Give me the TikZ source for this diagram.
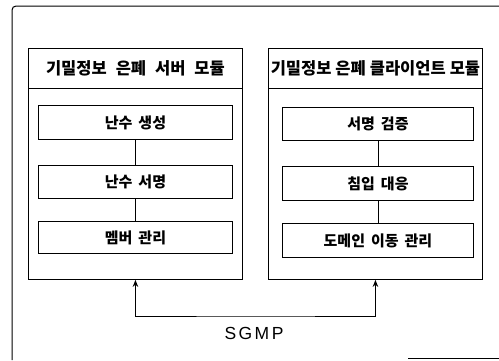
\documentclass[tikz,border=0pt]{standalone}
\usepackage{fontspec}
\setmainfont{Liberation Sans}
\newfontfamily\kr{Noto Sans CJK KR}
\usetikzlibrary{arrows.meta}
\begin{document}
\begin{tikzpicture}[x=1pt,y=-1pt,
  frame/.style={line width=1pt},
  modbox/.style={draw, line width=0.9pt, anchor=north west, inner sep=0pt, minimum width=214pt, minimum height=231pt},
  hdrbox/.style={draw, line width=0.9pt, anchor=north west, inner sep=0pt, minimum width=214pt, minimum height=40pt, font=\kr\bfseries\fontsize{16.5}{18}\selectfont},
  subbox/.style={draw, line width=0.9pt, anchor=north west, inner sep=0pt, font=\kr\bfseries\fontsize{15}{17}\selectfont},
  link/.style={line width=0.9pt},
  arr/.style={line width=1pt, {Stealth[length=7pt,width=5.5pt]}-{Stealth[length=7pt,width=5.5pt]}}]
\useasboundingbox (0,0) rectangle (499,360);
% outer frame
\draw[frame, rounded corners=4pt] (499,6) -- (12,6) -- (12,360);
\draw[frame] (408,358.5) -- (499,358.5);
% left module
\node[modbox] (L) at (28,48) {};
\node[hdrbox] (Lh) at (28,48) {\spaceskip=9pt\relax 기밀정보 은폐 서버 모듈};
\node[subbox, minimum width=194pt, minimum height=34pt] (L1) at (38,105) {\spaceskip=6pt\relax 난수 생성};
\node[subbox, minimum width=194pt, minimum height=33pt] (L2) at (38,165) {\spaceskip=6pt\relax 난수 서명};
\node[subbox, minimum width=194pt, minimum height=32pt] (L3) at (38,221) {\spaceskip=6pt\relax 멤버 관리};
\draw[link] (L1) -- (L2);
\draw[link] (L2) -- (L3);
% right module
\node[modbox] (R) at (268,48) {};
\node[hdrbox] (Rh) at (268,48) {\spaceskip=4pt\relax 기밀정보 은폐 클라이언트 모듈};
\node[subbox, minimum width=191pt, minimum height=33pt] (R1) at (282,107) {\spaceskip=6pt\relax 서명 검증};
\node[subbox, minimum width=191pt, minimum height=34pt] (R2) at (282,166) {\spaceskip=6pt\relax 침입 대응};
\node[subbox, minimum width=191pt, minimum height=34pt] (R3) at (282,223) {\spaceskip=6pt\relax 도메인 이동 관리};
\draw[link] (R1) -- (R2);
\draw[link] (R2) -- (R3);
% SGMP
\coordinate (m) at (256,316);
\draw[arr] (L.south) |- (m) -| (R.south);
\node[font=\addfontfeatures{LetterSpace=14}\fontsize{17.5}{19}\selectfont] (s) at (254,333) {SGMP};
\end{tikzpicture}
\end{document}
